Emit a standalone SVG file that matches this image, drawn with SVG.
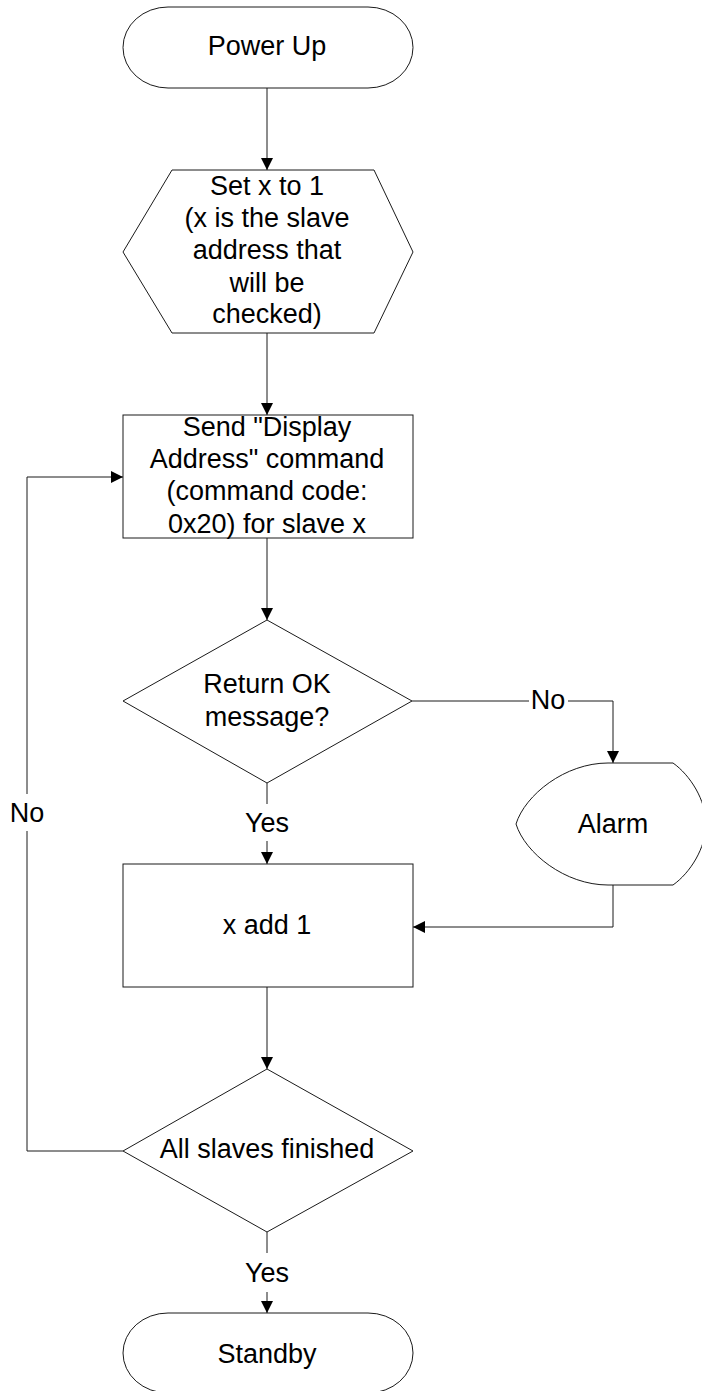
<svg xmlns="http://www.w3.org/2000/svg" width="702" height="1391" viewBox="0 0 702 1391">
<style>
.s{fill:#fff;stroke:#1a1a1a;stroke-width:1}
.c{fill:none;stroke:#1a1a1a;stroke-width:1}
text{font-family:"Liberation Sans",Arial,sans-serif;font-size:27px;fill:#000;text-anchor:middle}
</style>
<defs>
<marker id="ah" viewBox="0 0 12 12" refX="12" refY="6" markerWidth="12" markerHeight="12" markerUnits="userSpaceOnUse" orient="auto">
<path d="M0,0 L12,6 L0,12 Z" fill="#000"/>
</marker>
</defs>
<rect width="702" height="1391" fill="#fff"/>
<g id="connectors">
<line class="c" x1="267" y1="88" x2="267" y2="170" marker-end="url(#ah)"/>
<line class="c" x1="267" y1="333" x2="267" y2="415" marker-end="url(#ah)"/>
<line class="c" x1="267" y1="538" x2="267" y2="620" marker-end="url(#ah)"/>
<line class="c" x1="267" y1="783" x2="267" y2="804"/>
<line class="c" x1="267" y1="841" x2="267" y2="864" marker-end="url(#ah)"/>
<text x="267" y="832">Yes</text>
<polyline class="c" points="412,701 529,701"/>
<polyline class="c" points="568,701 613,701 613,763" marker-end="url(#ah)"/>
<text x="548" y="709">No</text>
<polyline class="c" points="613,885 613,927 413,927" marker-end="url(#ah)"/>
<line class="c" x1="267" y1="987" x2="267" y2="1069" marker-end="url(#ah)"/>
<line class="c" x1="267" y1="1232" x2="267" y2="1253"/>
<line class="c" x1="267" y1="1292" x2="267" y2="1313" marker-end="url(#ah)"/>
<text x="267" y="1282">Yes</text>
<polyline class="c" points="123,1151 27,1151 27,831"/>
<polyline class="c" points="27,794 27,477 123,477" marker-end="url(#ah)"/>
<text x="27" y="822">No</text>
</g>
<g id="power-up">
<rect class="s" x="123" y="7" width="290" height="81" rx="45" ry="40.5"/>
<text x="267" y="55">Power Up</text>
</g>
<g id="set-x">
<polygon class="s" points="172,170 374,170 413,252 374,333 172,333 123,252"/>
<text x="267" y="195">Set x to 1</text>
<text x="267" y="227">(x is the slave</text>
<text x="267" y="259">address that</text>
<text x="267" y="292">will be</text>
<text x="267" y="323">checked)</text>
</g>
<g id="send-command">
<rect class="s" x="123" y="415" width="290" height="123"/>
<text x="267" y="436">Send "Display</text>
<text x="267" y="468">Address" command</text>
<text x="267" y="500">(command code:</text>
<text x="267" y="533">0x20) for slave x</text>
</g>
<g id="return-ok">
<polygon class="s" points="267,620 412,701 267,783 123,701"/>
<text x="267" y="693">Return OK</text>
<text x="267" y="726">message?</text>
</g>
<g id="alarm">
<path class="s" d="M608,763 L673,763 C690,775 706,800 706,824 C706,848 690,873 673,885 L608,885 C565,885 525,853 516,824 C525,795 565,763 608,763 Z"/>
<text x="613" y="833">Alarm</text>
</g>
<g id="x-add-1">
<rect class="s" x="123" y="864" width="290" height="123"/>
<text x="267" y="934">x add 1</text>
</g>
<g id="all-finished">
<polygon class="s" points="267,1069 413,1151 267,1232 123,1151"/>
<text x="267" y="1158">All slaves finished</text>
</g>
<g id="standby">
<rect class="s" x="123" y="1313" width="290" height="80" rx="45" ry="40"/>
<text x="267" y="1363">Standby</text>
</g>
</svg>
